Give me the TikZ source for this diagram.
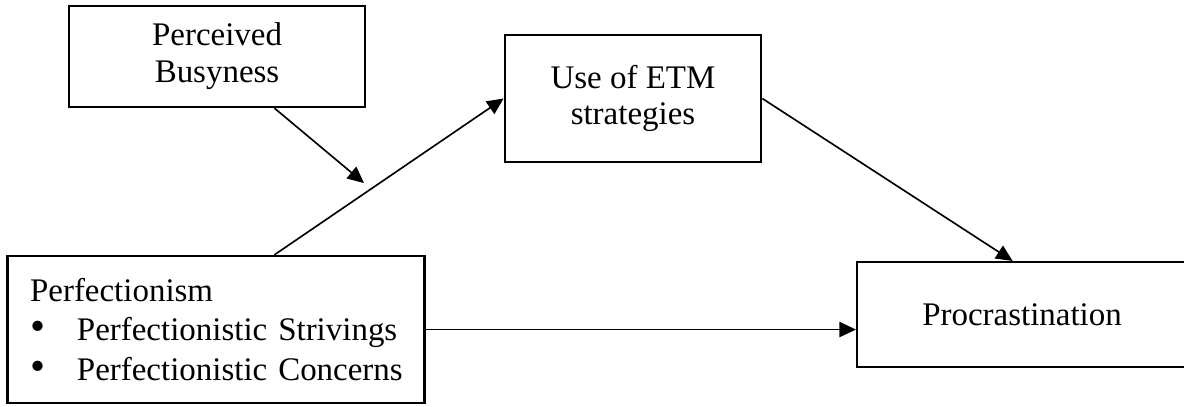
\documentclass[tikz,border=0pt]{standalone}
\usepackage{fontspec}
\setmainfont{Liberation Serif}
\usetikzlibrary{arrows.meta}
\begin{document}
\begin{tikzpicture}[
  box/.style={draw, line width=0.9pt, align=center, font=\fontsize{12}{13.4}\selectfont},
  pfeil/.style={-{Triangle[length=6pt,width=5.5pt]}, line width=0.6pt}
]
\useasboundingbox (0,0) rectangle (15.155,5.197);
% Kaesten
\node[box, minimum width=3.79cm, minimum height=1.29cm] (busy) at (2.778,4.474) {Perceived\\Busyness};
\node[box, minimum width=3.28cm, minimum height=1.63cm] (etm) at (8.102,3.936) {Use of ETM\\strategies};
\node[box, align=left, text width=4.76cm, inner xsep=0.29cm, minimum height=1.88cm, font=\fontsize{12}{14.5}\selectfont] (perf) at (2.765,0.979) {Perfectionism\\\mbox{\makebox[0.6cm][l]{\scalebox{1.3}{\textbullet}}Perfectionistic Strivings}\\\mbox{\makebox[0.6cm][l]{\scalebox{1.3}{\textbullet}}Perfectionistic Concerns}};
\node[box, minimum width=4.22cm, minimum height=1.34cm] (proc) at (13.082,1.171) {Procrastination};
\coordinate (mod) at (4.659,2.854);
% Pfeile
\draw[pfeil] (busy.318) -- (mod);
\draw[pfeil] (perf.52) -- (etm.west);
\draw[pfeil] (etm.east) -- (proc.100);
\draw[pfeil] (perf.east) -- (perf.east -| proc.west);
\end{tikzpicture}
\end{document}
